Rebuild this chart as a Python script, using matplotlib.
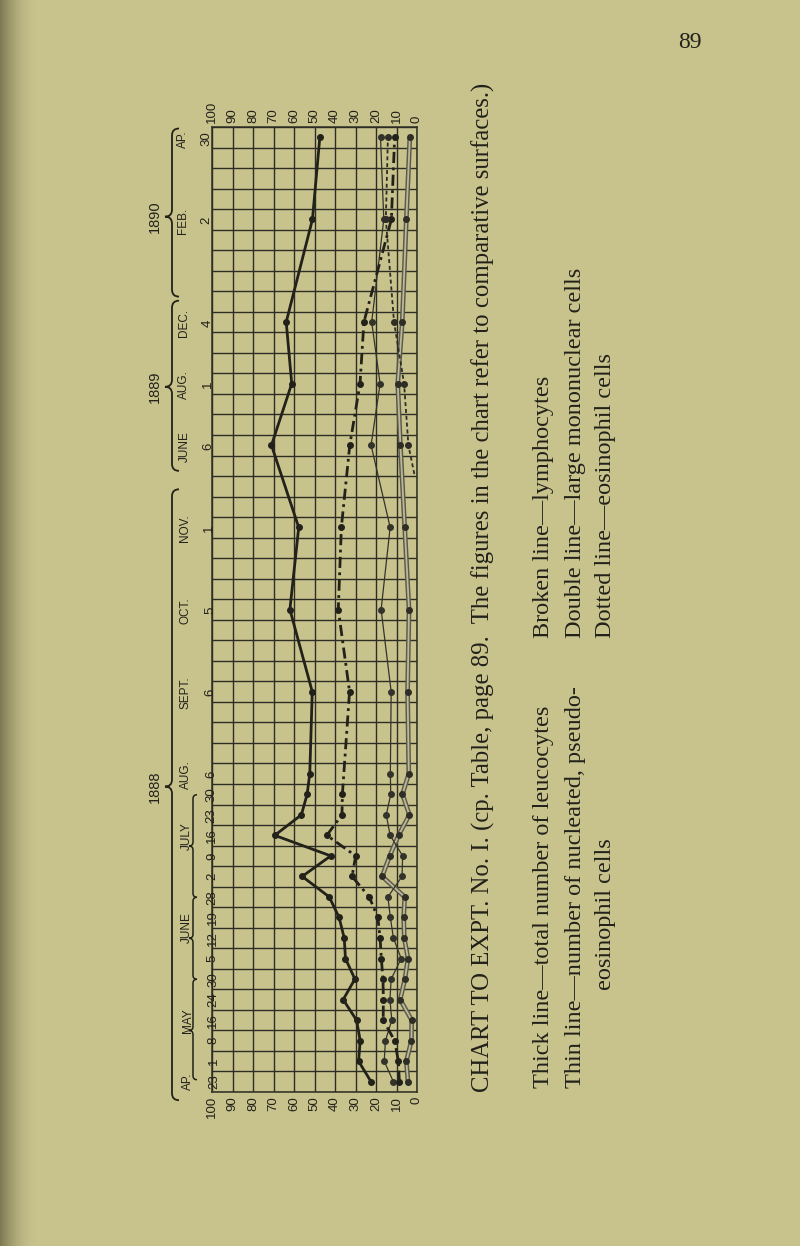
import matplotlib
matplotlib.use("Agg")
import matplotlib.pyplot as plt
import numpy as np
from matplotlib.path import Path
from matplotlib.patches import PathPatch

# one row of the chart per blood count, row 0 is at the bottom
rows = [0, 1, 2, 3, 4, 5, 6, 7, 8, 9, 10, 11, 12, 13, 14, 15, 19, 23, 27, 31, 34, 37, 42, 46]
days = ["23", "1", "8", "16", "24", "30", "5", "12", "19", "28", "2", "9", "16",
        "23", "30", "6", "6", "5", "1", "6", "1", "4", "2", "30"]

# month labels and the row they sit on
months = ["AP.", "MAY", "JUNE", "JULY", "AUG.", "SEPT.", "OCT.", "NOV.",
          "JUNE", "AUG.", "DEC.", "FEB.", "AP."]
month_rows = [0, 3, 7.5, 12, 15, 19, 23, 27, 31, 34, 37, 42, 46]

# braces grouping several days of one month (from row, to row, tip row)
month_braces = [(0.6, 5.5, 3), (5.5, 9.5, 7.5), (9.5, 14.5, 12)]

years = ["1888", "1889", "1890"]
year_braces = [(-0.4, 29.4, 14.9), (30.3, 38.6, 34.4), (38.8, 47.0, 42.7)]

# Thick line - total number of leucocytes
total = [22.4, 28.5, 27.7, 29.5, 36.0, 30.3, 34.9, 35.5, 38.0, 42.8, 56.0, 42.1, 69.4,
         56.4, 53.6, 52.3, 51.1, 62.0, 57.7, 71.0, 61.1, 63.8, 51.0, 47.4]
# Thin line - nucleated, pseudo-eosinophil cells
nucleated = [11.5, 16.0, 15.4, 12.3, 13.2, 12.6, 7.7, 11.5, 13.0, 14.2, 7.3, 7.0, 13.1,
             15.0, 12.8, 13.0, 12.6, 17.5, 13.1, 22.4, 18.0, 22.1, 16.2, 17.8]
# Broken line - lymphocytes (no count on Aug. 6)
lympho_rows = [0, 1, 2, 3, 4, 5, 6, 7, 8, 9, 10, 11, 12, 13, 14, 19, 23, 27, 31, 34, 37, 42, 46]
lympho = [8.6, 9.1, 10.9, 16.5, 16.4, 16.6, 17.4, 18.0, 19.1, 23.3, 31.7, 29.9, 44.0,
          36.6, 36.4, 32.9, 38.4, 36.9, 32.8, 27.8, 25.9, 12.5, 10.9]
# Double line - large mononuclear cells
mono = [4.4, 5.2, 2.7, 2.6, 8.2, 5.9, 4.4, 6.2, 6.5, 6.0, 17.0, 13.3, 9.0,
        3.7, 7.1, 4.0, 4.6, 3.9, 6.0, 8.1, 9.4, 7.2, 5.2, 3.5]
# Dotted line - eosinophil cells, begins between Nov. 1888 and June 1889
eosin_rows = [29.6, 31, 34, 37, 42, 46]
eosin = [1.3, 4.2, 6.3, 11.2, 15.2, 14.2]

paper = "#c8c38d"
ink = "#22211a"
rule = "#2e2d25"

fig = plt.figure(figsize=(8, 12.46), dpi=100, facecolor=paper)

# chart grid, 100 on the left, 0 on the right
ax = fig.add_axes([212 / 800, 1 - 1092 / 1246, 205 / 800, 965 / 1246])
ax.set_facecolor(paper)
ax.set_xlim(100, 0)
ax.set_ylim(0, 47)
for v in range(0, 101, 10):
    ax.axvline(v, color=rule, lw=1.0, zorder=1)
for r in range(0, 48):
    ax.axhline(r, color=rule, lw=1.0, zorder=1)
for s in ax.spines.values():
    s.set_color(rule)
    s.set_linewidth(1.1)
ax.set_xticks(range(0, 101, 10))
ax.set_yticks([])
ax.tick_params(axis="x", length=0, top=True, labeltop=True, bottom=True, labelbottom=True,
               labelrotation=90, labelsize=9.5, labelcolor=ink, pad=3)
for t in ax.get_xticklabels():
    t.set_family("Liberation Sans")

yc = np.array(rows) + 0.5
ax.plot(total, yc, color=ink, lw=2.0, marker="o", ms=4, zorder=5)
ax.plot(nucleated, yc, color="#34332b", lw=0.9, marker="o", ms=4, zorder=4)
ax.plot(lympho, np.array(lympho_rows) + 0.5, color=ink, lw=2.0, ls=(0, (4, 1.6, 1, 1.6)),
        marker="o", ms=4, zorder=4)
ax.plot(mono, yc, color="#5a594d", lw=3.4, zorder=3, solid_capstyle="butt")
ax.plot(mono, yc, color="#bdb996", lw=1.3, zorder=3)
ax.plot(mono, yc, ls="none", marker="o", ms=4, color="#2e2d26", zorder=4)
ey = np.array(eosin_rows) + 0.5
ax.plot(eosin, ey, color="#2e2d26", lw=1.3, ls=(0, (2.2, 1.6)), zorder=4)
ax.plot(eosin[1:], ey[1:], ls="none", marker="o", ms=4, color="#2e2d26", zorder=4)

# overlay in page pixels for labels, braces and the printed text
ov = fig.add_axes([0, 0, 1, 1])
ov.set_xlim(0, 800)
ov.set_ylim(1246, 0)
ov.axis("off")
ov.patch.set_visible(False)

# darker gutter at the binding
grad = np.linspace(0, 1, 40)[None, :]
shade = np.zeros((1, 40, 4))
shade[..., :3] = [0.42, 0.40, 0.26]
shade[..., 3] = (1 - grad) ** 2 * 0.8
ov.imshow(shade, extent=[0, 40, 1246, 0], aspect="auto", zorder=0)


def row_y(r):
    return 1092 - 20.5 * (r + 0.5)


def brace(x, y_top, y_bot, y_tip, w, lw=1.1):
    verts = [(x + w, y_top), (x, y_top), (x, y_top + w),
             (x, y_tip - w), (x, y_tip), (x - w, y_tip),
             (x, y_tip), (x, y_tip + w),
             (x, y_bot - w), (x, y_bot), (x + w, y_bot)]
    codes = [Path.MOVETO, Path.CURVE3, Path.CURVE3,
             Path.LINETO, Path.CURVE3, Path.CURVE3,
             Path.CURVE3, Path.CURVE3,
             Path.LINETO, Path.CURVE3, Path.CURVE3]
    ov.add_patch(PathPatch(Path(verts, codes), fill=False, lw=lw, color=ink))


for r, d in zip(rows, days):
    y = row_y(r)
    ov.text(206 + 8 * (y - 127) / 965, y, d, rotation=90, ha="center", va="center",
            fontsize=9.5, color=ink, family="Liberation Sans")
for r, m in zip(month_rows, months):
    y = row_y(r)
    ov.text(183 + 5 * (y - 127) / 965, y, m, rotation=90, ha="center", va="center",
            fontsize=8.5, color=ink, family="Liberation Sans")
for b0, b1, bt in month_braces:
    brace(193, 1092 - 20.5 * b1, 1092 - 20.5 * b0, 1092 - 20.5 * bt, 4)
for yl, (b0, b1, bt) in zip(years, year_braces):
    brace(172, 1092 - 20.5 * b1, 1092 - 20.5 * b0, 1092 - 20.5 * bt, 7, lw=1.3)
    ov.text(155, 1092 - 20.5 * bt, yl, rotation=90, ha="center", va="center",
            fontsize=10.5, color=ink, family="Liberation Sans")

renderer = fig.canvas.get_renderer()


def fitted(x, y0, s, length):
    t = ov.text(x, y0, s, rotation=90, rotation_mode="anchor", ha="left", va="center",
                fontsize=10, color=ink, family="Liberation Serif")
    ext = t.get_window_extent(renderer)
    t.set_fontsize(10 * length / ext.height)
    return t.get_fontsize()


fitted(483, 1092, "CHART TO EXPT. No. I. (cp. Table, page 89.  The figures in the chart "
       "refer to comparative surfaces.)", 1007)
fs = fitted(543, 1088, "Thick line\u2014total number of leucocytes", 380)
for x, y0, s in [(575, 1088, "Thin line\u2014number of nucleated, pseudo-"),
                 (606, 990, "eosinophil cells"),
                 (543, 638, "Broken line\u2014lymphocytes"),
                 (575, 638, "Double line\u2014large mononuclear cells"),
                 (606, 638, "Dotted line\u2014eosinophil cells")]:
    ov.text(x, y0, s, rotation=90, rotation_mode="anchor", ha="left", va="center",
            fontsize=fs, color=ink, family="Liberation Serif")

ov.text(690, 42, "89", ha="center", va="center", fontsize=17, color=ink,
        family="Liberation Serif")

fig.savefig("out.png", dpi=100, facecolor=paper)
